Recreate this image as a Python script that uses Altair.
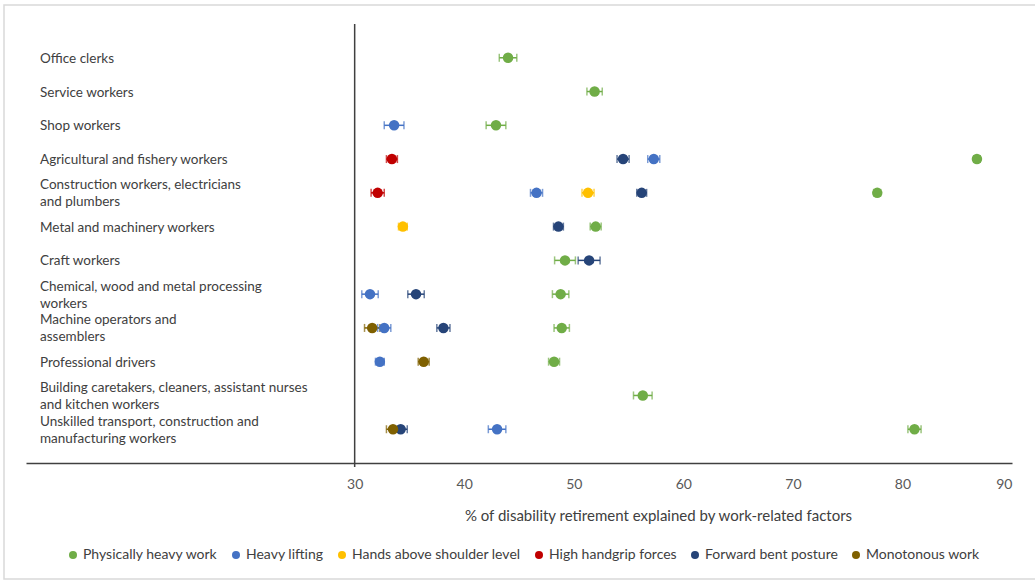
import altair as alt
import pandas as pd

# Occupational groups, top to bottom
occupations = [
    "Office clerks",
    "Service workers",
    "Shop workers",
    "Agricultural and fishery workers",
    "Construction workers, electricians\nand plumbers",
    "Metal and machinery workers",
    "Craft workers",
    "Chemical, wood and metal processing\nworkers",
    "Machine operators and\nassemblers",
    "Professional drivers",
    "Building caretakers, cleaners, assistant nurses\nand kitchen workers",
    "Unskilled transport, construction and\nmanufacturing workers",
]

series_names = [
    "Physically heavy work",
    "Heavy lifting",
    "Hands above shoulder level",
    "High handgrip forces",
    "Forward bent posture",
    "Monotonous work",
]
series_colors = ["#70AD47", "#4472C4", "#FFC000", "#C00000", "#264478", "#7F6000"]

# % of disability retirement explained, with half-width of the confidence interval
physically_heavy = [44.0, 51.9, 42.9, 86.8, 77.7, 52.0, 49.2, 48.8, 48.9, 48.2, 56.3, 81.1]
physically_heavy_err = [0.8, 0.7, 0.9, 0.3, 0.3, 0.5, 0.95, 0.75, 0.7, 0.5, 0.85, 0.6]

heavy_lifting = [None, None, 33.6, 57.3, 46.6, None, None, 31.4, 32.7, 32.3, None, 43.0]
heavy_lifting_err = [None, None, 0.9, 0.55, 0.55, None, None, 0.75, 0.6, 0.4, None, 0.8]

hands_above_shoulder = [None, None, None, None, 51.3, 34.4, None, None, None, None, None, None]
hands_above_shoulder_err = [None, None, None, None, 0.55, 0.4, None, None, None, None, None, None]

high_handgrip = [None, None, None, 33.4, 32.1, None, None, None, None, None, None, None]
high_handgrip_err = [None, None, None, 0.5, 0.6, None, None, None, None, None, None, None]

forward_bent = [None, None, None, 54.5, 56.2, 48.6, 51.4, 35.6, 38.1, None, None, 34.2]
forward_bent_err = [None, None, None, 0.55, 0.45, 0.45, 1.0, 0.75, 0.6, None, None, 0.6]

monotonous = [None, None, None, None, None, None, None, None, 31.6, 36.3, None, 33.5]
monotonous_err = [None, None, None, None, None, None, None, None, 0.7, 0.5, None, 0.6]

x_ticks = [30, 40, 50, 60, 70, 80, 90]

all_values = [physically_heavy, heavy_lifting, hands_above_shoulder,
              high_handgrip, forward_bent, monotonous]
all_errors = [physically_heavy_err, heavy_lifting_err, hands_above_shoulder_err,
              high_handgrip_err, forward_bent_err, monotonous_err]

rows = []
for s_idx, (name, vals, errs) in enumerate(zip(series_names, all_values, all_errors)):
    for r_idx, (v, e) in enumerate(zip(vals, errs)):
        if v is None:
            continue
        rows.append({
            "series": name,
            "order": s_idx,
            "row": r_idx + 1,
            "value": v,
            "lo": v - e,
            "hi": v + e,
        })
df = pd.DataFrame(rows)

labels_df = pd.DataFrame({"row": list(range(1, len(occupations) + 1)),
                          "label": occupations})
labels_df["lines"] = labels_df["label"].str.count("\n") + 1

FONT = "Lato"
PLOT_W, PLOT_H = 986, 439
LINE_H = 17

x_scale = alt.Scale(domain=[0, 90], nice=False, zero=False)
y_scale = alt.Scale(domain=[0, 13], reverse=True, nice=False, zero=False)
color_scale = alt.Scale(domain=series_names, range=series_colors)

color_enc = alt.Color(
    "series:N", scale=color_scale, sort=series_names,
    legend=alt.Legend(
        title=None, orient="none", direction="horizontal",
        legendX=40, legendY=524, symbolType="circle", symbolSize=64,
        symbolOpacity=1, symbolStrokeWidth=0,
        labelFont=FONT, labelFontSize=14, labelColor="#404040", labelLimit=0,
        labelOffset=3, columnPadding=11, columns=6,
    ),
)

x_axis = alt.Axis(
    values=x_ticks, grid=False, ticks=False,
    domainColor="#404040", domainWidth=1.5,
    labelColor="#595959", labelFont=FONT, labelFontSize=14, labelPadding=14,
    title="% of disability retirement explained by work-related factors",
    titleFont=FONT, titleFontSize=15, titleFontWeight="normal",
    titleColor="#404040", titleX=632, titleY=52,
    titleAlign="center", titleBaseline="middle",
)

base = alt.Chart(df)

# Error bar stems and caps
stems = base.mark_rule(strokeWidth=1.5).encode(
    x=alt.X("lo:Q", scale=x_scale, axis=x_axis),
    x2="hi:Q",
    y=alt.Y("row:Q", scale=y_scale, axis=None),
    color=color_enc,
)
caps_lo = base.mark_tick(orient="vertical", size=8, thickness=1.5).encode(
    x=alt.X("lo:Q", scale=x_scale, axis=x_axis),
    y=alt.Y("row:Q", scale=y_scale, axis=None),
    color=color_enc,
)
caps_hi = base.mark_tick(orient="vertical", size=8, thickness=1.5).encode(
    x=alt.X("hi:Q", scale=x_scale, axis=x_axis),
    y=alt.Y("row:Q", scale=y_scale, axis=None),
    color=color_enc,
)

points = base.mark_circle(size=110, opacity=1).encode(
    x=alt.X("value:Q", scale=x_scale, axis=x_axis),
    y=alt.Y("row:Q", scale=y_scale, axis=None),
    color=color_enc,
    order=alt.Order("order:Q"),
)

# Vertical reference line at 30
vline = alt.Chart(pd.DataFrame({"x": [30]})).mark_rule(
    color="#404040", strokeWidth=1.5
).encode(x=alt.X("x:Q", scale=x_scale, axis=x_axis),
         y=alt.value(0), y2=alt.value(PLOT_H + 4))

# Occupation labels inside the left part of the plot; two-line labels are
# shifted up half a line so the block is centred on its row
label_style = dict(align="left", baseline="middle", font=FONT, fontSize=13.5,
                   color="#404040", lineBreak="\n", lineHeight=LINE_H)
labels_1 = alt.Chart(labels_df).transform_filter("datum.lines == 1").mark_text(
    dy=1, **label_style
).encode(x=alt.value(14), y=alt.Y("row:Q", scale=y_scale, axis=None), text="label:N")
labels_2 = alt.Chart(labels_df).transform_filter("datum.lines == 2").mark_text(
    dy=1 - LINE_H / 2, **label_style
).encode(x=alt.value(14), y=alt.Y("row:Q", scale=y_scale, axis=None), text="label:N")

# Light outer frame
frame = alt.Chart(pd.DataFrame({"a": [0]})).mark_rect(
    fill="#FFFFFF", fillOpacity=0, stroke="#D9D9D9", strokeWidth=1.5
).encode(x=alt.value(-22), x2=alt.value(PLOT_W + 40),
         y=alt.value(-19), y2=alt.value(555))

chart = alt.layer(frame, vline, labels_1, labels_2, stems, caps_lo, caps_hi, points).properties(
    width=PLOT_W, height=PLOT_H,
    autosize=alt.AutoSizeParams(type="none"),
    padding={"left": 26, "top": 24, "right": 23, "bottom": 118},
    background="white",
).configure_view(stroke=None)

chart.save("out.html", embed_options={"renderer": "svg", "actions": False})
